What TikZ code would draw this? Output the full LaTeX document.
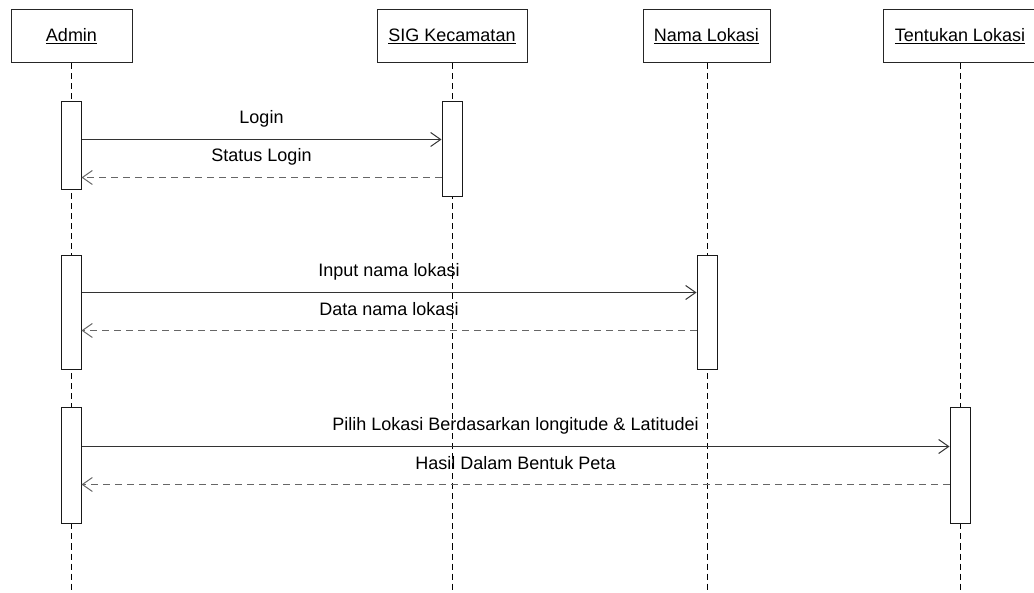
\documentclass[tikz,border=0pt]{standalone}
\usepackage{fontspec}
\setmainfont{Liberation Sans}
\usetikzlibrary{arrows.meta}
\begin{document}
\begin{tikzpicture}[x=1pt,y=-1pt,
  font=\fontsize{18}{21}\selectfont,
  objbox/.style={draw=black!85,line width=1pt,minimum height=53pt,inner sep=0pt,fill=white},
  actbar/.style={draw=black!90,line width=1pt,minimum width=20pt,inner sep=0pt,fill=white},
  lifeline/.style={draw=black,line width=1pt,dash pattern=on 6pt off 4pt},
  msg/.style={draw=black!80,line width=1.2pt,-{Straight Barb[length=10pt,width=14pt,line width=1pt]}},
  ret/.style={draw=black!60,line width=1.2pt,dash pattern=on 7pt off 5pt,-{Straight Barb[length=10pt,width=14pt,line width=1pt]}},
  lbl/.style={midway,yshift=21pt,text=black,inner sep=0pt}]
\useasboundingbox (0,0) rectangle (1034,593);
\clip (0,0) rectangle (1034,593);
% objects
\node[objbox,minimum width=121pt] (admin) at (71.5,36.5) {\underline{Admin}};
\node[objbox,minimum width=150pt] (sig) at (452,36.5) {\underline{SIG Kecamatan}};
\node[objbox,minimum width=127pt] (nama) at (706.5,36.5) {\underline{Nama Lokasi}};
\node[objbox,minimum width=154pt] (tentu) at (960,36.5) {\underline{Tentukan Lokasi}};
% lifeline ends
\coordinate (adminE) at (71,593);
\coordinate (sigE) at (452,593);
\coordinate (namaE) at (707,593);
\coordinate (tentuE) at (960,593);
\draw[lifeline] (admin.south -| adminE) -- (adminE);
\draw[lifeline] (sig.south -| sigE) -- (sigE);
\draw[lifeline] (nama.south -| namaE) -- (namaE);
\draw[lifeline] (tentu.south -| tentuE) -- (tentuE);
% activation bars
\node[actbar,minimum height=88pt] (a1) at (71,146) {};
\node[actbar,minimum height=95pt] (s1) at (452,149.5) {};
\node[actbar,minimum height=114pt] (a2) at (71,313) {};
\node[actbar,minimum height=114pt] (n1) at (707,313) {};
\node[actbar,minimum height=115pt] (a3) at (71,465.5) {};
\node[actbar,minimum height=115pt] (t1) at (960,465.5) {};
% messages
\draw[msg] ([yshift=-38pt]a1.north east) -- ([yshift=-38pt]s1.north west) node[lbl] {Login};
\draw[ret] ([yshift=-76pt]s1.north west) -- ([yshift=-76pt]a1.north east) node[lbl] {Status Login};
\draw[msg] ([yshift=-37pt]a2.north east) -- ([yshift=-37pt]n1.north west) node[lbl] {Input nama lokasi};
\draw[ret] ([yshift=-75pt]n1.north west) -- ([yshift=-75pt]a2.north east) node[lbl] {Data nama lokasi};
\draw[msg] ([yshift=-39pt]a3.north east) -- ([yshift=-39pt]t1.north west) node[lbl] {Pilih Lokasi Berdasarkan longitude \& Latitudei};
\draw[ret] ([yshift=-77pt]t1.north west) -- ([yshift=-77pt]a3.north east) node[lbl] {Hasil Dalam Bentuk Peta};
\end{tikzpicture}
\end{document}
